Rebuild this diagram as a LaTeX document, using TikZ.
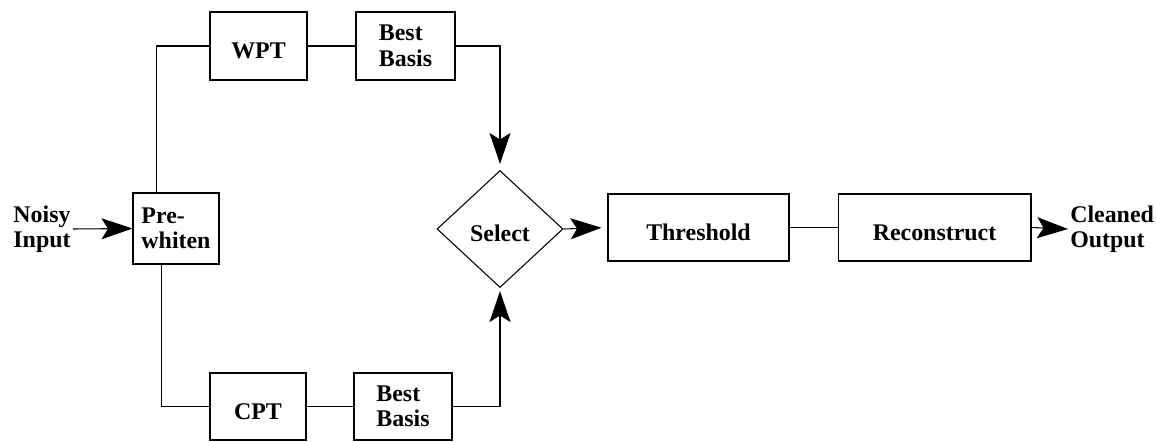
\documentclass[tikz,border=0pt]{standalone}
\usepackage{fontspec}
\setmainfont{Liberation Serif}
\usetikzlibrary{arrows.meta,shapes.geometric}

\begin{document}
\begin{tikzpicture}[x=0.02cm,y=-0.02cm,line width=0.6pt,
  font=\fontsize{13.6}{14.5}\selectfont\bfseries,
  blk/.style={draw,rectangle,inner sep=0pt,align=left,minimum height=1.36cm},
  low/.style={text height=14.5pt},
  txt/.style={align=left,inner sep=1pt},
  arr/.style={-{Stealth[length=0.62cm,width=0.42cm,inset=0.13cm]}}]
\useasboundingbox (0,0) rectangle (1156,441);
\node[txt] (noisy) at (42,229) {Noisy\\Input};
\node[blk,minimum width=1.72cm,minimum height=1.42cm] (pre) at (176,228.5) {Pre-\\whiten};
\node[blk,low,minimum width=1.94cm] (wpt) at (258.5,46) {WPT};
\node[blk,minimum width=1.98cm] (bb1) at (405.5,46) {Best\\Basis};
\node[blk,low,minimum width=1.92cm,minimum height=1.34cm] (cpt) at (258,406.5) {CPT};
\node[blk,minimum width=1.96cm,minimum height=1.34cm] (bb2) at (403,406.5) {Best\\Basis};
\node[draw,diamond,low,inner sep=0pt,minimum width=2.52cm,minimum height=2.34cm] (sel) at (500,229) {Select};
\node[blk,low,minimum width=3.62cm,minimum height=1.34cm] (thr) at (698.5,227.5) {Threshold};
\node[blk,low,minimum width=3.86cm,minimum height=1.34cm] (rec) at (934.5,227.5) {Reconstruct};
\node[txt,anchor=west] (out) at (1068,229) {Cleaned\\Output};

\draw[arr] (noisy.east) -- (pre.west);
\draw ([xshift=0.48cm]pre.north west) |- (wpt.west);
\draw ([xshift=0.58cm]pre.south west) |- (cpt.west);
\draw (wpt) -- (bb1);
\draw (cpt) -- (bb2);
\draw[arr,shorten >=0.12cm] (bb1.east) -| (sel.north);
\draw[arr,shorten >=0.06cm] (bb2.east) -| (sel.south);
\draw[arr,shorten >=0.12cm] (sel.east) -- (thr.west);
\draw (thr) -- (rec);
\draw[arr] (rec.east) -- (out.west);
\end{tikzpicture}
\end{document}
